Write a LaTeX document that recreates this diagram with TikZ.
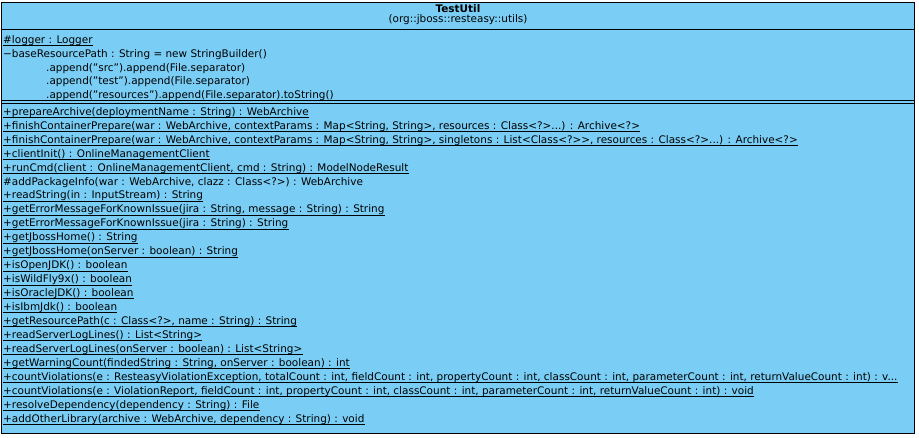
\documentclass[tikz,border=0pt]{standalone}
\usepackage{fontspec}
\setmainfont{DejaVu Sans}
\definecolor{umlfill}{RGB}{122,206,245}
\tikzset{
  txt/.style={anchor=base west, inner sep=0pt, font=\fontsize{10.45}{12}\selectfont},
  ttl/.style={anchor=base, inner sep=0pt, font=\fontsize{10.45}{12}\selectfont},
  ul/.style={line width=0.9pt},
  sep/.style={line width=1pt}
}
\newcommand{\ulline}[1]{\draw[ul] ([yshift=-2.3pt]#1.base west) -- ([yshift=-2.3pt]#1.base east);}
\begin{document}
\begin{tikzpicture}[x=1pt,y=-1pt]
\useasboundingbox (0,0) rectangle (919,438);
\node[draw, line width=1pt, fill=umlfill, minimum width=913pt, minimum height=431pt, anchor=north west, inner sep=0pt] (box) at (1,2) {};
% header
\node[ttl, font=\fontsize{10.45}{12}\selectfont\bfseries] (title) at (458,12.5) {TestUtil};
\node[ttl] (pkg) at (458,22.5) {(org::jboss::resteasy::utils)};
\draw[sep] (1,29.5) -- (914,29.5);
% attributes
\node[txt] (a1) at (3,43.5) {\#logger : Logger}; \ulline{a1}
\node[txt] (a2) at (3,57.3) {\textminus baseResourcePath : String = new StringBuilder()};
\node[txt] (a3) at (46,71.1) {.append("src").append(File.separator)};
\node[txt] (a4) at (46,84.9) {.append("test").append(File.separator)};
\node[txt] (a5) at (46,98.7) {.append("resources").append(File.separator).toString()};
\draw[sep] (1,101) -- (914,101);
\draw[sep] (1,103.5) -- (914,103.5);
% methods
\def\ms{13.95}
\def\mb{115.3}
\node[txt] (m0) at (3,\mb) {+prepareArchive(deploymentName : String) : WebArchive}; \ulline{m0}
\node[txt] (m1) at (3,\mb+1*\ms) {+finishContainerPrepare(war : WebArchive, contextParams : Map<String, String>, resources : Class<?>...) : Archive<?>}; \ulline{m1}
\node[txt] (m2) at (3,\mb+2*\ms) {+finishContainerPrepare(war : WebArchive, contextParams : Map<String, String>, singletons : List<Class<?>{}>, resources : Class<?>...) : Archive<?>}; \ulline{m2}
\node[txt] (m3) at (3,\mb+3*\ms) {+clientInit() : OnlineManagementClient}; \ulline{m3}
\node[txt] (m4) at (3,\mb+4*\ms) {+runCmd(client : OnlineManagementClient, cmd : String) : ModelNodeResult}; \ulline{m4}
\node[txt] (m5) at (3,\mb+5*\ms) {\#addPackageInfo(war : WebArchive, clazz : Class<?>) : WebArchive};
\node[txt] (m6) at (3,\mb+6*\ms) {+readString(in : InputStream) : String}; \ulline{m6}
\node[txt] (m7) at (3,\mb+7*\ms) {+getErrorMessageForKnownIssue(jira : String, message : String) : String}; \ulline{m7}
\node[txt] (m8) at (3,\mb+8*\ms) {+getErrorMessageForKnownIssue(jira : String) : String}; \ulline{m8}
\node[txt] (m9) at (3,\mb+9*\ms) {+getJbossHome() : String}; \ulline{m9}
\node[txt] (m10) at (3,\mb+10*\ms) {+getJbossHome(onServer : boolean) : String}; \ulline{m10}
\node[txt] (m11) at (3,\mb+11*\ms) {+isOpenJDK() : boolean}; \ulline{m11}
\node[txt] (m12) at (3,\mb+12*\ms) {+isWildFly9x() : boolean}; \ulline{m12}
\node[txt] (m13) at (3,\mb+13*\ms) {+isOracleJDK() : boolean}; \ulline{m13}
\node[txt] (m14) at (3,\mb+14*\ms) {+isIbmJdk() : boolean}; \ulline{m14}
\node[txt] (m15) at (3,\mb+15*\ms) {+getResourcePath(c : Class<?>, name : String) : String}; \ulline{m15}
\node[txt] (m16) at (3,\mb+16*\ms) {+readServerLogLines() : List<String>}; \ulline{m16}
\node[txt] (m17) at (3,\mb+17*\ms) {+readServerLogLines(onServer : boolean) : List<String>}; \ulline{m17}
\node[txt] (m18) at (3,\mb+18*\ms) {+getWarningCount(findedString : String, onServer : boolean) : int}; \ulline{m18}
\node[txt] (m19) at (3,\mb+19*\ms) {+countViolations(e : ResteasyViolationException, totalCount : int, fieldCount : int, propertyCount : int, classCount : int, parameterCount : int, returnValueCount : int) : v...}; \ulline{m19}
\node[txt] (m20) at (3,\mb+20*\ms) {+countViolations(e : ViolationReport, fieldCount : int, propertyCount : int, classCount : int, parameterCount : int, returnValueCount : int) : void}; \ulline{m20}
\node[txt] (m21) at (3,\mb+21*\ms) {+resolveDependency(dependency : String) : File}; \ulline{m21}
\node[txt] (m22) at (3,\mb+22*\ms) {+addOtherLibrary(archive : WebArchive, dependency : String) : void}; \ulline{m22}
\end{tikzpicture}
\end{document}
